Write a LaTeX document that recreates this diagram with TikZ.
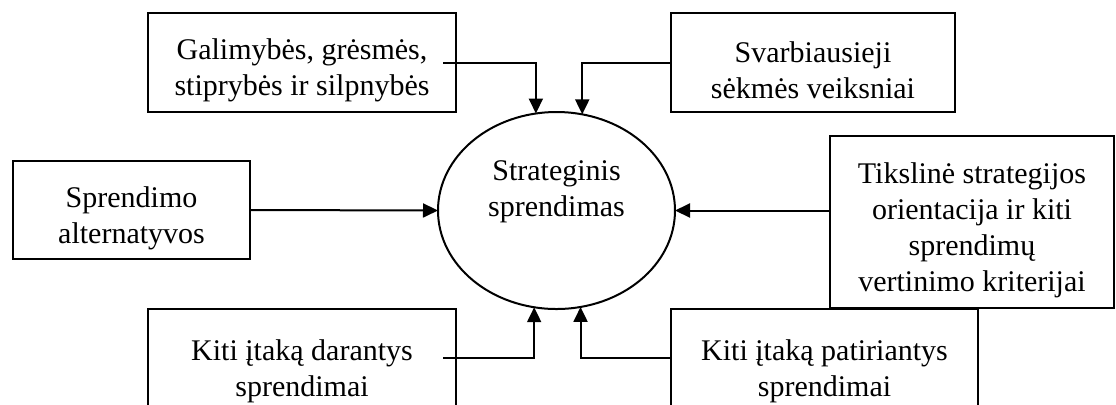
\documentclass[tikz,border=0pt]{standalone}
\usepackage{fontspec}
\setmainfont{Liberation Serif}
\usepackage{tikz}
\usetikzlibrary{positioning,arrows.meta,shapes.geometric}
\newcommand{\topgap}{\rule{0pt}{18.5pt}}

\begin{document}
\begin{tikzpicture}[x=0.5pt,y=-0.5pt,
  box/.style={draw, line width=1pt, rectangle, inner sep=0pt, outer sep=0pt,
    align=center, font=\fontsize{15}{18}\selectfont},
  arr/.style={line width=1pt, -{Triangle[length=7.5pt,width=7pt]}}]
  \useasboundingbox (0,0) rectangle (1116,404);
  \clip (0,0) rectangle (1116,404);

  % ---- CENTRE: the decision ----
  \node[draw, ellipse, line width=1pt, inner sep=0pt, outer sep=0pt,
    minimum width=118.5pt, minimum height=98.5pt] (strat) at (556.5,210.5) {};
  \node[align=center, font=\fontsize{15}{18}\selectfont] (strattxt) at (556.5,192)
    {Strateginis\\sprendimas};

  % ---- TOP ----
  \node[box, minimum width=154pt, minimum height=49.5pt] (galim) at (302,62.5)
    {\topgap Galimybės, grėsmės,\\stiprybės ir silpnybės};
  \node[box, minimum width=142pt, minimum height=49.5pt] (svarb) at (813,62.5)
    {\topgap Svarbiausieji\\sėkmės veiksniai};

  % ---- MIDDLE ----
  \node[box, minimum width=118.5pt, minimum height=49pt] (altern) at (131.5,210)
    {\topgap Sprendimo\\alternatyvos};
  \node[box, minimum width=142pt, minimum height=86pt] (tiksl) at (972,222)
    {\topgap Tikslinė strategijos\\orientacija ir kiti\\sprendimų\\vertinimo kriterijai};

  % ---- BOTTOM (boxes run past the lower edge) ----
  \node[box, minimum width=154pt, minimum height=54pt] (darant) at (302,363)
    {\topgap Kiti įtaką darantys\\sprendimai};
  \node[box, minimum width=153.5pt, minimum height=54pt] (patir) at (824.5,363)
    {\topgap Kiti įtaką patiriantys\\sprendimai};

  % Arrows into the decision
  \draw[arr] ([xshift=-6.5pt]galim.east) -| (strat.102.5);
  \draw[arr] (svarb.west) -| (strat.75.7);
  \draw[arr] (altern.east) -- (strat.west);
  \draw[arr] (tiksl.west |- strat.east) -- (strat.east);
  \draw[arr] ([xshift=-6.5pt,yshift=2.5pt]darant.east) -| (strat.257.5);
  \draw[arr] ([yshift=2.5pt]patir.west) -| (strat.284.3);
\end{tikzpicture}
\end{document}
